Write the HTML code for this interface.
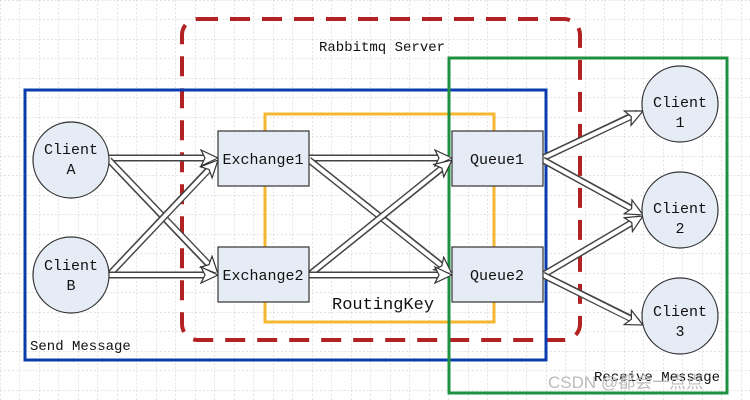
<!DOCTYPE html>
<html><head><meta charset="utf-8"><style>
html,body{margin:0;padding:0;background:#fff}
svg{display:block}
text{font-family:"Liberation Mono","DejaVu Sans Mono",monospace;fill:#111}
</style></head><body>
<svg width="750" height="400" viewBox="0 0 750 400" xmlns="http://www.w3.org/2000/svg">
<defs>
<pattern id="g" width="19.5" height="19.5" patternUnits="userSpaceOnUse">
<path d="M0 0H19.5M0 0V19.5" stroke="#c8c8c8" stroke-width="1" stroke-dasharray="2,2" fill="none"/>
</pattern>
<marker id="h" markerUnits="userSpaceOnUse" markerWidth="22" markerHeight="20" refX="18" refY="9" orient="auto">
<path d="M1,1 L18,9 L1,17 L5,9 Z" fill="#fff" stroke="#333" stroke-width="1.2"/>
</marker>
</defs>
<rect width="750" height="400" fill="#fff"/>
<rect width="750" height="400" fill="url(#g)"/>

<rect x="182" y="19" width="398" height="321" rx="16" fill="none" stroke="#b22222" stroke-width="4" stroke-dasharray="20,12"/>
<rect x="25" y="90" width="521" height="270" fill="none" stroke="#0a3cad" stroke-width="3"/>
<rect x="265" y="114" width="229" height="208" fill="none" stroke="#f5b731" stroke-width="3"/>
<rect x="449" y="58" width="278" height="335" fill="none" stroke="#1e9140" stroke-width="3"/>

<g fill="none">
<g><line x1="109" y1="158" x2="212" y2="158" stroke="#444" stroke-width="7"/><line x1="109" y1="158" x2="218" y2="158" stroke="#fff" stroke-width="4" marker-end="url(#h)"/></g>
<g><line x1="109" y1="160" x2="212" y2="268" stroke="#444" stroke-width="7"/><line x1="109" y1="160" x2="218" y2="274" stroke="#fff" stroke-width="4" marker-end="url(#h)"/></g>
<g><line x1="109" y1="275" x2="212" y2="166" stroke="#444" stroke-width="7"/><line x1="109" y1="275" x2="218" y2="160" stroke="#fff" stroke-width="4" marker-end="url(#h)"/></g>
<g><line x1="109" y1="275" x2="212" y2="275" stroke="#444" stroke-width="7"/><line x1="109" y1="275" x2="218" y2="275" stroke="#fff" stroke-width="4" marker-end="url(#h)"/></g>
<g><line x1="309" y1="158" x2="446" y2="158" stroke="#444" stroke-width="7"/><line x1="309" y1="158" x2="452" y2="158" stroke="#fff" stroke-width="4" marker-end="url(#h)"/></g>
<g><line x1="309" y1="160" x2="446" y2="269" stroke="#444" stroke-width="7"/><line x1="309" y1="160" x2="452" y2="274" stroke="#fff" stroke-width="4" marker-end="url(#h)"/></g>
<g><line x1="309" y1="275" x2="446" y2="165" stroke="#444" stroke-width="7"/><line x1="309" y1="275" x2="452" y2="160" stroke="#fff" stroke-width="4" marker-end="url(#h)"/></g>
<g><line x1="309" y1="275" x2="446" y2="275" stroke="#444" stroke-width="7"/><line x1="309" y1="275" x2="452" y2="275" stroke="#fff" stroke-width="4" marker-end="url(#h)"/></g>
<g><line x1="543" y1="158" x2="638" y2="113" stroke="#444" stroke-width="7"/><line x1="543" y1="158" x2="643" y2="111" stroke="#fff" stroke-width="4" marker-end="url(#h)"/></g>
<g><line x1="543" y1="160" x2="638" y2="212" stroke="#444" stroke-width="7"/><line x1="543" y1="160" x2="643" y2="215" stroke="#fff" stroke-width="4" marker-end="url(#h)"/></g>
<g><line x1="543" y1="275" x2="638" y2="219" stroke="#444" stroke-width="7"/><line x1="543" y1="275" x2="643" y2="216" stroke="#fff" stroke-width="4" marker-end="url(#h)"/></g>
<g><line x1="543" y1="275" x2="638" y2="322" stroke="#444" stroke-width="7"/><line x1="543" y1="275" x2="643" y2="325" stroke="#fff" stroke-width="4" marker-end="url(#h)"/></g>
</g>

<g fill="#e6ecf6" stroke="#333" stroke-width="1.2">
<circle cx="71" cy="160" r="38"/><circle cx="71" cy="275" r="38"/>
<circle cx="680" cy="104" r="38"/><circle cx="680" cy="210" r="38"/><circle cx="680" cy="316" r="38"/>
<rect x="218" y="131" width="91" height="55"/><rect x="218" y="247" width="91" height="55"/>
<rect x="452" y="131" width="91" height="55"/><rect x="452" y="247" width="91" height="55"/>
</g>
<g font-size="15" text-anchor="middle">
<text x="71" y="154">Client</text><text x="71" y="174">A</text>
<text x="71" y="270">Client</text><text x="71" y="290">B</text>
<text x="680" y="107">Client</text><text x="680" y="127">1</text>
<text x="680" y="213">Client</text><text x="680" y="233">2</text>
<text x="680" y="316">Client</text><text x="680" y="336">3</text>
<text x="263" y="164">Exchange1</text><text x="263" y="280">Exchange2</text>
<text x="497" y="164">Queue1</text><text x="497" y="280">Queue2</text>
</g>
<text x="319" y="51" font-size="14">Rabbitmq Server</text>
<text x="332" y="309" font-size="17">RoutingKey</text>
<text x="30" y="350" font-size="14">Send Message</text>
<text x="594" y="381" font-size="14">Receive Message</text>
<text x="548" y="388" font-size="17" style="font-family:'Liberation Sans',sans-serif;fill:#bbb">CSDN @都会一点点</text>
</svg>
</body></html>
